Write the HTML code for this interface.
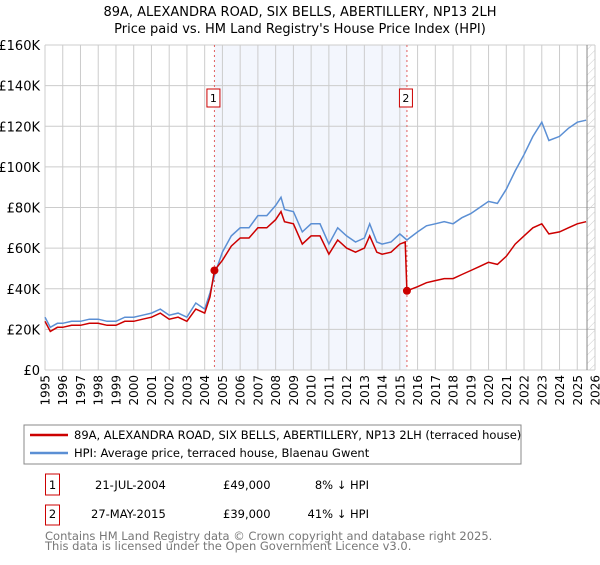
<!DOCTYPE html>
<html><head><meta charset="utf-8"><style>
body{margin:0;background:#fff;font-family:"Liberation Sans","DejaVu Sans",sans-serif;}
svg text{font-family:"DejaVu Sans","Liberation Sans",sans-serif;}
</style></head><body>
<svg id="c" width="600" height="560" xmlns="http://www.w3.org/2000/svg">
<defs><pattern id="hatch" width="6" height="6" patternUnits="userSpaceOnUse" patternTransform="rotate(45)"><line x1="0" y1="0" x2="0" y2="6" stroke="#ccc" stroke-width="1"/></pattern></defs>
<text x="300" y="16" text-anchor="middle" font-size="13">89A, ALEXANDRA ROAD, SIX BELLS, ABERTILLERY, NP13 2LH</text>
<text x="300" y="33" text-anchor="middle" font-size="13">Price paid vs. HM Land Registry's House Price Index (HPI)</text>
<g id="grid"></g><g id="marks"></g>
<rect x="24" y="425" width="497" height="39" fill="none" stroke="#888"/>
<line x1="30" y1="435" x2="68" y2="435" stroke="#cc0000" stroke-width="2.5"/>
<text x="74" y="439" font-size="11.5">89A, ALEXANDRA ROAD, SIX BELLS, ABERTILLERY, NP13 2LH (terraced house)</text>
<line x1="30" y1="453" x2="68" y2="453" stroke="#5b8fd4" stroke-width="2.5"/>
<text x="74" y="457" font-size="11.5">HPI: Average price, terraced house, Blaenau Gwent</text>
<rect x="45.5" y="474" width="14" height="21" fill="none" stroke="#cc0000"/>
<text x="52.5" y="489" font-size="11.5" text-anchor="middle">1</text>
<text x="95" y="489" font-size="11.5">21-JUL-2004</text>
<text x="223" y="489" font-size="11.5">£49,000</text>
<text x="369" y="489" font-size="11.5" text-anchor="end">8% ↓ HPI</text>
<rect x="45.5" y="505" width="14" height="20" fill="none" stroke="#cc0000"/>
<text x="52.5" y="518" font-size="11.5" text-anchor="middle">2</text>
<text x="91" y="518" font-size="11.5">27-MAY-2015</text>
<text x="223" y="518" font-size="11.5">£39,000</text>
<text x="369" y="518" font-size="11.5" text-anchor="end">41% ↓ HPI</text>
<text x="45" y="540" font-size="11.5" fill="#777">Contains HM Land Registry data © Crown copyright and database right 2025.</text>
<text x="45" y="550" font-size="11.5" fill="#777">This data is licensed under the Open Government Licence v3.0.</text>
</svg>
<script>
const yTicks=[0,20,40,60,80,100,120,140,160];
const yLabels=["£0","£20K","£40K","£60K","£80K","£100K","£120K","£140K","£160K"];
const years=[1995,1996,1997,1998,1999,2000,2001,2002,2003,2004,2005,2006,2007,2008,2009,2010,2011,2012,2013,2014,2015,2016,2017,2018,2019,2020,2021,2022,2023,2024,2025,2026];
const hpiT=[1995,1995.3,1995.7,1996,1996.5,1997,1997.5,1998,1998.5,1999,1999.5,2000,2000.5,2001,2001.5,2002,2002.5,2003,2003.5,2004,2004.3,2004.6,2005,2005.5,2006,2006.5,2007,2007.5,2008,2008.3,2008.5,2009,2009.5,2010,2010.5,2011,2011.5,2012,2012.5,2013,2013.3,2013.7,2014,2014.5,2015,2015.4,2016,2016.5,2017,2017.5,2018,2018.5,2019,2019.5,2020,2020.5,2021,2021.5,2022,2022.5,2023,2023.4,2024,2024.5,2025,2025.5];
const hpiV=[26,21,23,23,24,24,25,25,24,24,26,26,27,28,30,27,28,26,33,30,38,48,58,66,70,70,76,76,81,85,79,78,68,72,72,62,70,66,63,65,72,63,62,63,67,64,68,71,72,73,72,75,77,80,83,82,89,98,106,115,122,113,115,119,122,123];
const redT=[1995,1995.3,1995.7,1996,1996.5,1997,1997.5,1998,1998.5,1999,1999.5,2000,2000.5,2001,2001.5,2002,2002.5,2003,2003.5,2004,2004.3,2004.55,2005,2005.5,2006,2006.5,2007,2007.5,2008,2008.3,2008.5,2009,2009.5,2010,2010.5,2011,2011.5,2012,2012.5,2013,2013.3,2013.7,2014,2014.5,2015,2015.3,2015.4,2016,2016.5,2017,2017.5,2018,2018.5,2019,2019.5,2020,2020.5,2021,2021.5,2022,2022.5,2023,2023.4,2024,2024.5,2025,2025.5];
const redV=[24,19,21,21,22,22,23,23,22,22,24,24,25,26,28,25,26,24,30,28,36,49,54,61,65,65,70,70,74,78,73,72,62,66,66,57,64,60,58,60,66,58,57,58,62,63,39,41,43,44,45,45,47,49,51,53,52,56,62,66,70,72,67,68,70,72,73];
const sales=[[2004.55,49],[2015.4,39]];
const L=45,R=595,T=45,B=370;
const X=t=>L+(t-1995)*(R-L)/31, Y=v=>B-v*(B-T)/160;
const NS="http://www.w3.org/2000/svg";
function mk(tag,at,par){const e=document.createElementNS(NS,tag);for(const k in at)e.setAttribute(k,at[k]);par.appendChild(e);return e;}
const g=document.getElementById('grid'),m=document.getElementById('marks');
let r=mk('rect',{x:X(sales[0][0]),y:T,width:X(sales[1][0])-X(sales[0][0]),height:B-T,fill:'#eef2fc',opacity:0.7},g);


r=mk('rect',{x:X(2025.55),y:T,width:R-X(2025.55),height:B-T,fill:'url(#hatch)'},g);


yTicks.forEach((v,i)=>{mk('line',{x1:L,x2:R,y1:Y(v),y2:Y(v),stroke:'#ccc'},g);
const t=mk('text',{x:L-5,y:Y(v)+5,'text-anchor':'end','font-size':'13'},g);t.textContent=yLabels[i];

});
years.forEach(y=>{mk('line',{x1:X(y),x2:X(y),y1:T,y2:B,stroke:'#ccc'},g);
const t=mk('text',{x:0,y:0,'text-anchor':'end','font-size':'12',transform:`translate(${X(y)+4.5},375) rotate(-90)`},g);t.textContent=y;

});
mk('line',{x1:X(2025.55),x2:X(2025.55),y1:T,y2:B,stroke:'#888'},g);
sales.forEach((s,i)=>{const l=mk('line',{x1:X(s[0]),x2:X(s[0]),y1:T,y2:B,stroke:'#e06060','stroke-dasharray':'2,3'},g);


const b=mk('rect',{x:X(s[0])-7.5,y:89,width:13,height:18,fill:'#fff',stroke:'#cc0000'},m);


const t=mk('text',{x:X(s[0])-1,y:102,'text-anchor':'middle','font-size':'11'},m);t.textContent=String(i+1);});
const pts=(ts,vs)=>ts.map((t,i)=>X(t).toFixed(1)+','+Y(vs[i]).toFixed(1)).join(' ');
let p=mk('polyline',{points:pts(hpiT,hpiV),fill:'none',stroke:'#5b8fd4','stroke-width':1.5},m);


p=mk('polyline',{points:pts(redT,redV),fill:'none',stroke:'#cc0000','stroke-width':1.5},m);


sales.forEach(s=>{const c=mk('circle',{cx:X(s[0]),cy:Y(s[1]),r:4,fill:'#cc0000'},m);

});
</script>
</body></html>
